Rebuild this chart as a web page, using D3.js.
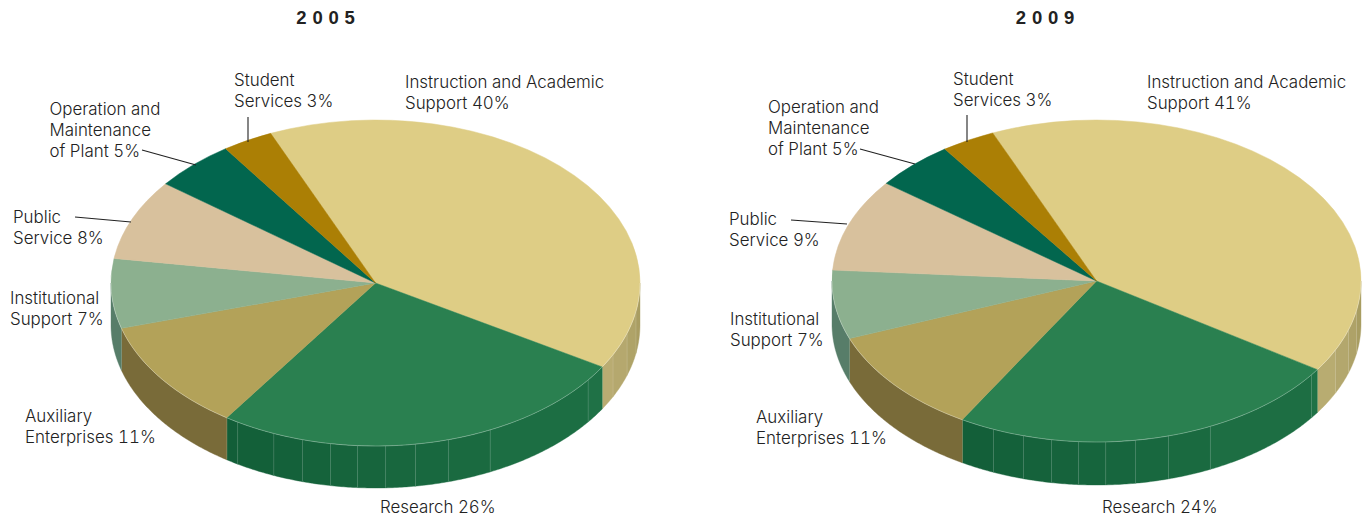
<!DOCTYPE html>
<html><head><meta charset="utf-8">
<script src="https://cdnjs.cloudflare.com/ajax/libs/d3/7.8.5/d3.min.js"></script>
<style>html,body{margin:0;padding:0;background:#fff}svg{display:block}
text{font-family:"Inter","Liberation Sans",Arial,sans-serif;font-weight:300;fill:#222;font-size:16.9px;font-variant-numeric:tabular-nums}
.title{font-family:"Liberation Sans",Arial,sans-serif;font-weight:700;fill:#222;font-size:18.5px;letter-spacing:5.8px;text-anchor:middle}</style>
</head><body><svg id="c" width="1362" height="517"></svg>
<script>
// ---- data ----
const categories = ["Instruction and Academic Support","Research","Auxiliary Enterprises","Institutional Support","Public Service","Operation and Maintenance of Plant","Student Services"];
// shares; each rounds to its printed label
const values2005 = [40.1,25.9,11,6.9,8,5,3.1];
const values2009 = [40.7,24.2,10.7,6.9,9.3,4.9,3.3];
const years = ["2005","2009"];
const labelLines2005 = [["Instruction and Academic","Support 40%"],["Research 26%"],["Auxiliary","Enterprises 11%"],["Institutional","Support 7%"],["Public","Service 8%"],["Operation and","Maintenance","of Plant 5%"],["Student","Services 3%"]];
const labelLines2009 = [["Instruction and Academic","Support 41%"],["Research 24%"],["Auxiliary","Enterprises 11%"],["Institutional","Support 7%"],["Public","Service 9%"],["Operation and","Maintenance","of Plant 5%"],["Student","Services 3%"]];

// ---- styling and layout ----
const topColors = ["#DECD85","#2A8050","#B3A259","#8CB08F","#D8C19D","#02664E","#AB7F05"];
// wall shade [at the 0deg end, at the 180deg end of the visible rim]
const wallShades = [["#A59A5F","#BBAE74"],["#1F7246","#125E38"],["#7A6C3A","#786A38"],["#5F8570","#4F7561"],["#aaa","#aaa"],["#444","#444"],["#555","#555"]];
const layouts = [
 {cx:375.5,cy:283,rx:264.5,ry:163,depth:42,end:31,titleX:328.5,
  seams:[121.4,112.6,106,99.8,93.9,87.8,81.3,74,64.3,36.5,26.1,18,10],
  labels:[[405,88],[380,513],[25,422],[10,304],[13,223],[49.5,115],[234,86]],
  leaders:[null,null,null,null,[75,217,131,222],[142,150,196,165],[248,117,248,142]]},
 {cx:1096.5,cy:281,rx:264.5,ry:161,depth:43,end:33.4,titleX:1048,
  seams:[112.9,106,99.8,93.9,88,81.5,74.2,64.5,35.6,25.3,17.7,10.6],
  labels:[[1147,88],[1102,513],[756,423],[730,325],[729,225],[768,113],[953,85]],
  leaders:[null,null,null,null,[791,220,847,224],[860,149,915,164],[967,115,967,142]]}
];
const lineGap = 21;
const rad = Math.PI/180;
const svg = d3.select("#c");

function drawPie(values, lines, year, L){
  const g = svg.append("g");
  const px = t => L.cx + L.rx*Math.cos(t*rad);
  const py = (t,d=0) => L.cy + L.ry*Math.sin(t*rad) + d;
  // the first slice ends at L.end (degrees clockwise from 3 o'clock)
  const startAngle = (L.end+90)*rad - values[0]/d3.sum(values)*2*Math.PI;
  const arcs = d3.pie().sort(null).startAngle(startAngle).endAngle(startAngle+2*Math.PI)(values);
  const line = d3.line();

  // visible front wall: rim parameter t measured clockwise from 3 o'clock
  const pieces = [];
  arcs.forEach((a,i)=>{
    const t0 = a.startAngle/rad-90, t1 = a.endAngle/rad-90;
    [-360,0,360].forEach(k=>{
      const s=Math.max(t0+k,0), e=Math.min(t1+k,180);
      if(e>s) pieces.push({i,s,e});
    });
  });
  pieces.forEach(p=>{
    const dom = d3.scaleLinear().domain([p.s,p.e]).range([wallShades[p.i][0],wallShades[p.i][1]]);
    const cuts = [p.s,...L.seams.filter(t=>t>p.s&&t<p.e).sort((a,b)=>a-b),p.e];
    d3.pairs(cuts).forEach(([s,e])=>{
      const ts = d3.range(s,e,0.5).concat(e);
      const pts = ts.map(t=>[px(t),py(t)]).concat(ts.slice().reverse().map(t=>[px(t),py(t,L.depth)]));
      g.append("path").attr("d",line(pts)+"Z").attr("fill",dom((s+e)/2))
        .attr("stroke",dom((s+e)/2)).attr("stroke-width",0.4);
    });
    L.seams.filter(t=>t>p.s&&t<p.e).forEach(t=>{
      g.append("line").attr("x1",px(t)).attr("x2",px(t)).attr("y1",py(t)).attr("y2",py(t,L.depth))
       .attr("stroke","#fff").attr("stroke-opacity",0.13).attr("stroke-width",1);
    });
    // light vertical edge at the left end of each wall
    if(p.e<180){
      g.append("line").attr("x1",px(p.e)).attr("x2",px(p.e)).attr("y1",py(p.e)).attr("y2",py(p.e,L.depth))
       .attr("stroke","#e8e2c0").attr("stroke-opacity",0.5).attr("stroke-width",1);
    }
  });

  // top surface: circular arcs flattened into the ellipse
  const arc = d3.arc().innerRadius(0).outerRadius(L.rx);
  const top = g.append("g").attr("transform",`translate(${L.cx},${L.cy}) scale(1,${L.ry/L.rx})`);
  top.selectAll("path").data(arcs).join("path")
    .attr("d",arc).attr("fill",(d,i)=>topColors[i])
    .attr("stroke",(d,i)=>topColors[i]).attr("stroke-width",0.5).attr("vector-effect","non-scaling-stroke");
  // pale highlight along the front rim
  const rim = d3.range(0,180.5,1).map(t=>[px(t),py(t)]);
  g.append("path").attr("d",line(rim)).attr("fill","none").attr("stroke","#fff").attr("stroke-opacity",0.35).attr("stroke-width",0.8);

  // leaders
  L.leaders.forEach(l=>{ if(l) g.append("line").attr("x1",l[0]).attr("y1",l[1]).attr("x2",l[2]).attr("y2",l[3]).attr("stroke","#222").attr("stroke-width",1.1); });
  // labels
  lines.forEach((ls,i)=>{
    const t = g.append("text").attr("x",L.labels[i][0]).attr("y",L.labels[i][1]);
    ls.forEach((s,j)=>t.append("tspan").attr("x",L.labels[i][0]).attr("y",L.labels[i][1]+j*lineGap).text(s));
  });
  g.append("text").attr("class","title").attr("x",L.titleX).attr("y",24).text(year);
}
drawPie(values2005,labelLines2005,years[0],layouts[0]);
drawPie(values2009,labelLines2009,years[1],layouts[1]);
</script></body></html>
